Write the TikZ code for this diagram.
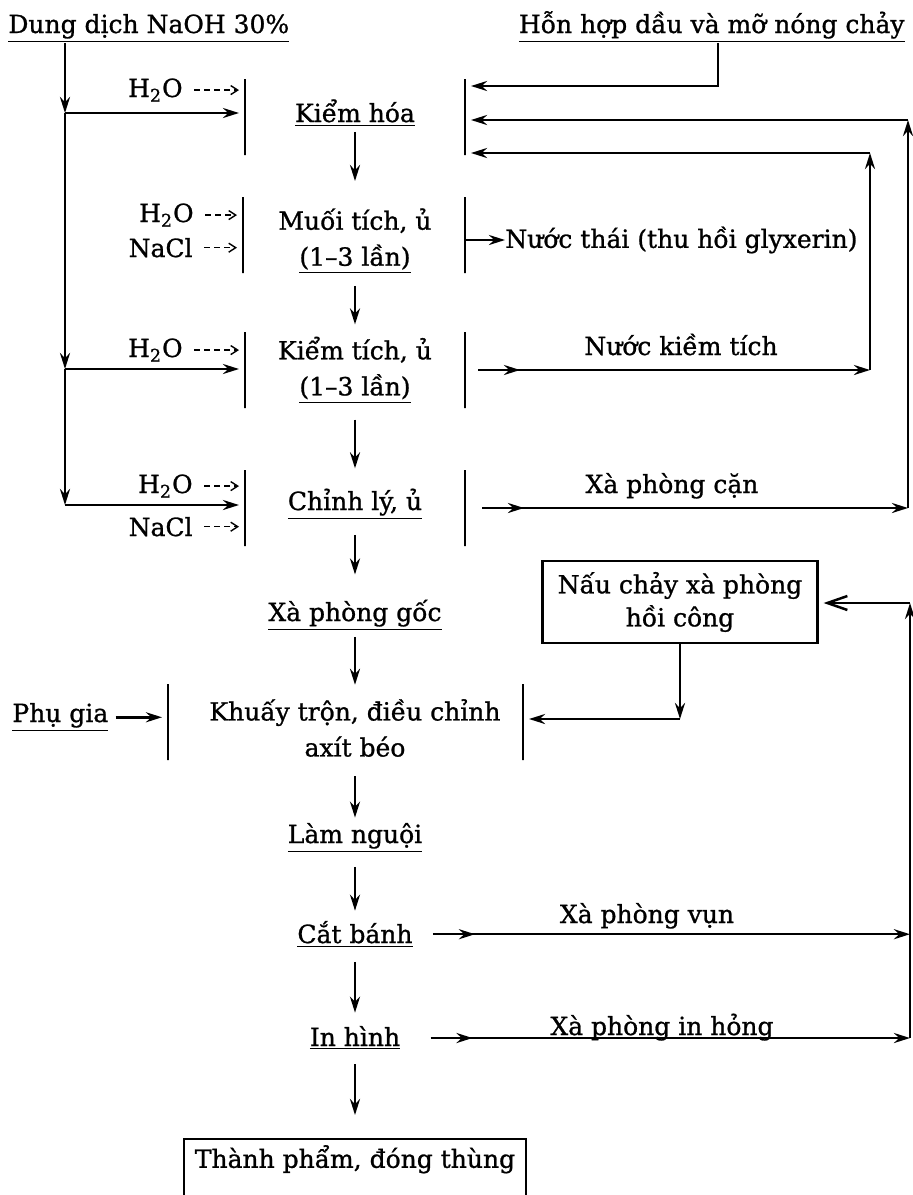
\documentclass[tikz,border=0pt]{standalone}
\usepackage{fontspec}
\setmainfont[FakeBold=1]{DejaVu Serif}
\usepackage{tikz}
\usetikzlibrary{arrows.meta, positioning, calc, decorations.markings}

\begin{document}
\begin{tikzpicture}[x=0.5pt, y=-0.5pt, font=\fontsize{12.5}{18}\selectfont]
    \tikzstyle{txt}     = [inner sep=0pt, anchor=base]
    \tikzstyle{stage}   = [inner sep=1pt, align=center]
    \tikzstyle{bar}     = [draw, line width=0.7pt, minimum width=0pt,
                           minimum height=38pt, inner sep=0pt]
    \tikzstyle{boxed}   = [draw, line width=1.1pt, align=center]
    \tikzstyle{arr}     = [-{Stealth[length=8pt, width=5pt]}, line width=1.25pt]
    \tikzstyle{feed}    = [arr, shorten >=3pt]
    \tikzstyle{dosing}  = [-{Straight Barb[length=3.5pt, width=4.5pt]}, densely dashed,
                           line width=0.7pt, shorten >=3pt]
    \tikzstyle{twohead} = [arr, postaction={decorate}, decoration={markings,
                           mark=at position 21pt with {\arrow{Stealth[length=8pt, width=5pt]}}}]
    \tikzstyle{openarr} = [-{Straight Barb[length=10pt, width=7pt]}, line width=1.25pt,
                           shorten >=2.5pt]

    \useasboundingbox (0,0) rectangle (912,1195);

    \node (naoh)   [txt, anchor=base west] at (8,33)   {\underline{Dung dịch NaOH 30\%}};
    \node (honhop) [txt, anchor=base east] at (905,33) {\underline{Hỗn hợp dầu và mỡ nóng chảy}};

    \node (kiemhoa)   [txt]   at (355,122)  {\underline{Kiểm hóa}};
    \node (muoitich)  [stage] at (355,241)  {Muối tích, ủ\\\underline{(1--3 lần)}};
    \node (kiemtich)  [stage] at (355,370)  {Kiểm tích, ủ\\\underline{(1--3 lần)}};
    \node (chinhly)   [txt]   at (355,510)  {\underline{Chỉnh lý, ủ}};
    \node (xpgoc)     [txt]   at (355,621)  {\underline{Xà phòng gốc}};
    \node (khuay)     [stage] at (355,728)  {Khuấy trộn, điều chỉnh\\axít béo};
    \node (lamnguoi)  [txt]   at (355,843)  {\underline{Làm nguội}};
    \node (catbanh)   [txt]   at (355,943)  {\underline{Cắt bánh}};
    \node (inhinh)    [txt]   at (355,1046) {\underline{In hình}};
    \node (thanhpham) [boxed, anchor=north, minimum width=171pt, text height=11pt,
                       text depth=25pt, inner xsep=2pt] at (355,1138) {Thành phẩm, đóng thùng};

    \foreach \n/\y/\l/\r in {kiemhoa/117/245/465, muoitich/235/243/465, kiemtich/370/245/465,
                             chinhly/508/245/465, khuay/722/168/523} {
        \node (\n-l) [bar] at (\l,\y) {};
        \node (\n-r) [bar] at (\r,\y) {};
    }

    \foreach \a/\b/\p/\q in {kiemhoa/muoitich/2.5pt/12.5pt, muoitich/kiemtich/5pt/5pt,
                             kiemtich/chinhly/7pt/10pt, chinhly/xpgoc/7.5pt/12.5pt,
                             xpgoc/khuay/3pt/6pt, khuay/lamnguoi/8.5pt/2.5pt,
                             lamnguoi/catbanh/7pt/5pt, catbanh/inhinh/7pt/6.5pt,
                             inhinh/thanhpham/7pt/11.5pt}
        \draw[arr, shorten <=\p, shorten >=\q] (\a) -- (\b);

    \node (h2oa)  [txt, anchor=base east] at (183,97)  {H\textsubscript{2}O};
    \node (h2ob)  [txt, anchor=base east] at (194,222) {H\textsubscript{2}O};
    \node (naclb) [txt, anchor=base east] at (193,257) {NaCl};
    \node (h2oc)  [txt, anchor=base east] at (183,357) {H\textsubscript{2}O};
    \node (h2od)  [txt, anchor=base east] at (193,493) {H\textsubscript{2}O};
    \node (nacld) [txt, anchor=base east] at (193,536) {NaCl};
    \foreach \i/\stg in {h2oa/kiemhoa, h2ob/muoitich, naclb/muoitich,
                         h2oc/kiemtich, h2od/chinhly, nacld/chinhly}
        \draw[dosing] ([xshift=5.5pt]\i.east) -- (\i.east -| \stg-l);

    \coordinate (feed1) at (65,113);
    \coordinate (feed2) at (65,369);
    \coordinate (feed3) at (65,505);
    \draw[arr] (feed1 |- naoh.south) -- (feed1);
    \draw[arr] (feed1) -- (feed2);
    \draw[arr] (feed2) -- (feed3);
    \draw[feed] (feed1) -- (feed1 -| kiemhoa-l);
    \draw[feed] (feed2) -- (feed2 -| kiemtich-l);
    \draw[feed] (feed3) -- (feed3 -| chinhly-l);

    \coordinate (oilturn)  at (718,86);
    \coordinate (canturn)  at (908,120);
    \coordinate (kiemturn) at (870,153);
    \draw[feed] (oilturn |- honhop.south) -- (oilturn) -- (oilturn -| kiemhoa-r);

    \node (nuocthai) [anchor=west, inner sep=0pt] at (505,240) {Nước thái (thu hồi glyxerin)};
    \draw[arr] (muoitich-r |- nuocthai.west) -- (nuocthai.west);

    \node (nuockiem) [txt] at (681,355) {Nước kiềm tích};
    \draw[twohead] ([xshift=6.5pt]kiemtich-r.center) -- (kiemtich-r -| kiemturn);
    \draw[arr] (kiemtich-r -| kiemturn) -- (kiemturn);
    \draw[feed] (kiemturn) -- (kiemturn -| kiemhoa-r);

    \node (xpcan) [txt] at (672,493) {Xà phòng cặn};
    \draw[twohead] ([xshift=8.5pt]chinhly-r.center) -- (chinhly-r -| canturn);
    \draw[arr] (chinhly-r -| canturn) -- (canturn);
    \draw[feed] (canturn) -- (canturn -| kiemhoa-r);

    \node (naucchay) [boxed, minimum width=137.5pt, minimum height=41pt,
                      font=\fontsize{12.5}{16.5}\selectfont] at (680,602) {Nấu chảy xà phòng\\hồi công};
    \coordinate (meltjoin) at (680,719);
    \draw[arr] (naucchay.south) -- (meltjoin);
    \draw[feed] (meltjoin) -- (meltjoin -| khuay-r);

    \node (phugia) [txt, anchor=base west] at (12,722) {\underline{Phụ gia}};
    \draw[feed] ([xshift=3.5pt]phugia.east) -- (phugia.east -| khuay-l);

    \node (xpvun)    [txt] at (647,923)  {Xà phòng vụn};
    \node (xpinhong) [txt] at (662,1035) {Xà phòng in hỏng};
    \coordinate (scrapturn) at (910,603);
    \draw[twohead] ([xshift=10pt]catbanh.east) -- (catbanh.east -| scrapturn);
    \draw[twohead] ([xshift=15pt]inhinh.east) -- (inhinh.east -| scrapturn);
    \draw[arr] (inhinh.east -| scrapturn) -- (scrapturn);
    \draw[openarr] (scrapturn) -- (scrapturn -| naucchay.east);
\end{tikzpicture}
\end{document}
